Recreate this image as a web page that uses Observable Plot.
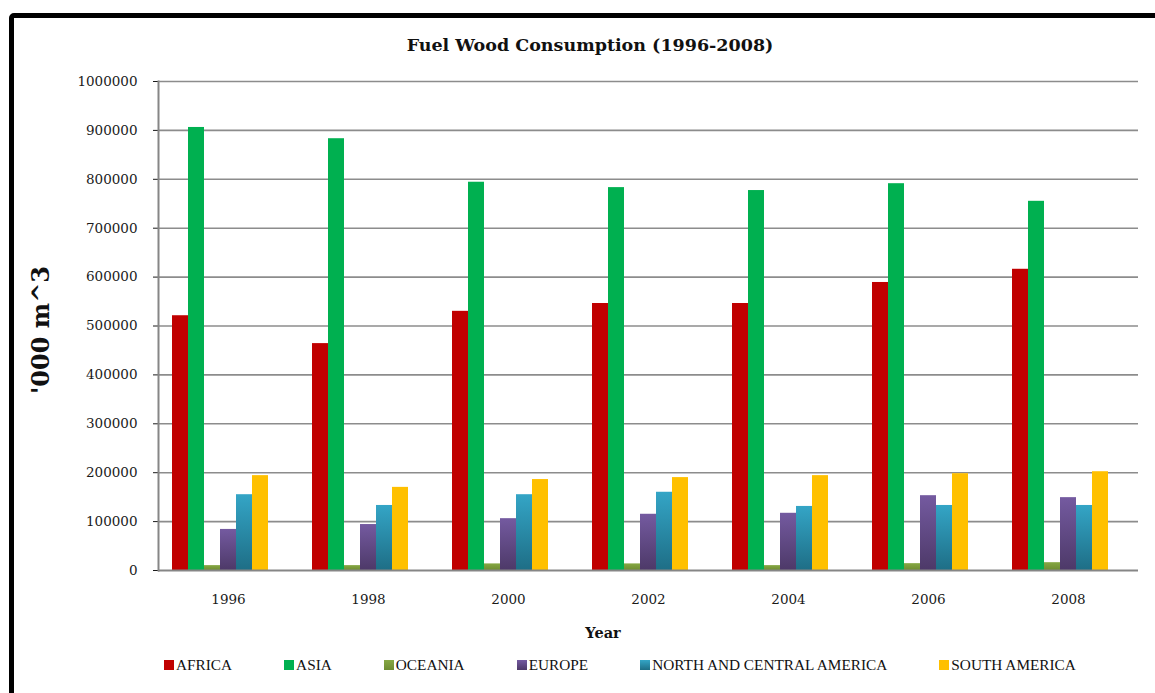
<!DOCTYPE html>
<html>
<head>
<meta charset="utf-8">
<script src="https://cdn.jsdelivr.net/npm/d3@7"></script>
<script src="https://cdn.jsdelivr.net/npm/@observablehq/plot@0.6"></script>
<style>
  html, body { margin: 0; padding: 0; background: #fff; width: 1155px; height: 693px; overflow: hidden; }
  #frame { position: absolute; left: 9px; top: 13px; width: 1170px; height: 720px; border: 5px solid #000; border-radius: 5px; box-sizing: border-box; }
  #chart { position: absolute; left: 0; top: 0; }
  .title { position: absolute; left: 340px; width: 500px; top: 35px; text-align: center; font: bold 17.5px "DejaVu Serif", serif; color: #111; }
  .ylab { position: absolute; left: 40px; top: 330px; transform: translate(-50%, -50%) rotate(-90deg); white-space: nowrap; font: bold 24px "DejaVu Serif", serif; color: #111; }
  .xlab { position: absolute; left: 553px; width: 100px; top: 624px; text-align: center; font: bold 14.5px "DejaVu Serif", serif; color: #111; }
  #legend { position: absolute; left: 164px; top: 656px; display: flex; gap: 52px; font: 15.3px "Liberation Serif", serif; color: #111; }
  #legend .item { display: flex; align-items: center; white-space: nowrap; }
  #legend .sw { width: 10px; height: 10px; margin-right: 2px; display: inline-block; }
</style>
</head>
<body>
<div id="frame"></div>
<div id="chart"></div>
<div class="title">Fuel Wood Consumption (1996-2008)</div>
<div class="ylab">'000 m^3</div>
<div class="xlab">Year</div>
<div id="legend"></div>
<script>
const years = ["1996", "1998", "2000", "2002", "2004", "2006", "2008"];
const regions = ["AFRICA", "ASIA", "OCEANIA", "EUROPE", "NORTH AND CENTRAL AMERICA", "SOUTH AMERICA"];
const africa  = [521000, 464000, 530000, 546000, 546000, 589000, 616000];
const asia    = [906000, 883000, 794000, 783000, 777000, 791000, 755000];
const oceania = [10000, 10000, 13500, 13500, 10000, 14000, 16000];
const europe  = [84000, 94000, 106000, 115000, 117000, 153000, 149000];
const ncAmerica = [155000, 133000, 155000, 160000, 131000, 133000, 133000];
const sAmerica  = [194000, 170000, 186000, 190000, 194000, 198000, 202000];
const yTicks = [0, 100000, 200000, 300000, 400000, 500000, 600000, 700000, 800000, 900000, 1000000];

// colours: [top, bottom] per region (solid when equal)
const regionColors = [
  ["#C00000", "#C00000"],
  ["#00B050", "#00B050"],
  ["#86A844", "#6E8C32"],
  ["#745AA0", "#4D3968"],
  ["#34A5C6", "#1E6E86"],
  ["#FFC000", "#FFC000"]
];

const series = [africa, asia, oceania, europe, ncAmerica, sAmerica];
const rows = [];
years.forEach((yr, i) => {
  regions.forEach((r, j) => rows.push({year: yr, region: r, value: series[j][i]}));
});

const fills = regionColors.map((c, j) => c[0] === c[1] ? c[0] : `url(#grad${j})`);

const plot = Plot.plot({
  width: 1155,
  height: 693,
  marginLeft: 158,
  marginRight: 17,
  marginTop: 81,
  marginBottom: 123,
  style: {fontFamily: "'DejaVu Serif', serif", fontSize: "13.5px", color: "#1a1a1a", background: "transparent"},
  fx: {domain: years, paddingInner: 0, paddingOuter: 0, axis: "bottom", tickSize: 0, tickPadding: 24, label: null},
  x: {domain: [...regions, " "], paddingInner: 0, paddingOuter: 0.7, axis: null},
  y: {domain: [0, 1000000], ticks: yTicks, tickFormat: d => String(d), tickSize: 5, tickPadding: 16, label: null},
  color: {domain: regions, range: fills},
  marks: [
    Plot.ruleY(yTicks.slice(1), {stroke: "#8c8c8c", strokeWidth: 1.6}),
    Plot.barY(rows, {fx: "year", x: "region", y: "value", fill: "region", inset: 0}),
    Plot.ruleY([0], {stroke: "#868686", strokeWidth: 2}),
    Plot.frame({anchor: "left", facet: "super", stroke: "#868686", strokeWidth: 2})
  ]
});

let defs = "<defs>";
regionColors.forEach((c, j) => {
  if (c[0] !== c[1]) {
    defs += `<linearGradient id="grad${j}" x1="0" y1="0" x2="0" y2="1"><stop offset="0" stop-color="${c[0]}"/><stop offset="1" stop-color="${c[1]}"/></linearGradient>`;
  }
});
defs += "</defs>";
plot.insertAdjacentHTML("afterbegin", defs);
document.getElementById("chart").appendChild(plot);

const legend = document.getElementById("legend");
regions.forEach((r, j) => {
  const item = document.createElement("div");
  item.className = "item";
  const sw = document.createElement("span");
  sw.className = "sw";
  sw.style.background = `linear-gradient(${regionColors[j][0]}, ${regionColors[j][1]})`;
  item.appendChild(sw);
  item.appendChild(document.createTextNode(r));
  legend.appendChild(item);
});
</script>
</body>
</html>
